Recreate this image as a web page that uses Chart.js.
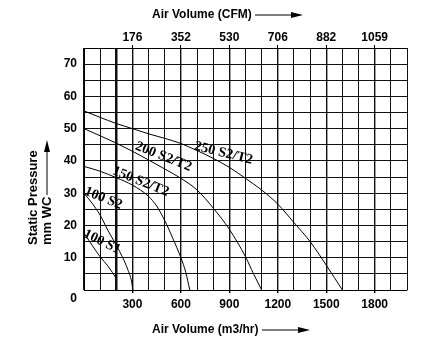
<!DOCTYPE html>
<html lang="en">
<head>
    <meta charset="UTF-8">
    <title>Fan Performance Curves</title>
    <script src="https://cdn.jsdelivr.net/npm/chart.js@4.4.0/dist/chart.umd.min.js"></script>
    <style>
        body { margin: 0; background: #fff; }
        .chart-container { position: relative; width: 439px; height: 350px; }
    </style>
</head>
<body>
    <div class="chart-container">
        <canvas id="fan-chart"></canvas>
    </div>

    <script>
        // Axis tick labels (bottom in m3/hr, top in CFM)
        const m3hTicks = [300, 600, 900, 1200, 1500, 1800];
        const cfmTicks = ['176', '352', '530', '706', '882', '1059'];
        const pressureTicks = [10, 20, 30, 40, 50, 60, 70];

        // Fan curves: air volume (m3/hr) vs static pressure (mm WC)
        const names = ['100 S1', '100 S2', '150 S2/T2', '200 S2/T2', '250 S2/T2'];

        const flow100S1 = [0, 50, 100, 150, 200];
        const pres100S1 = [17.6, 13.9, 10.3, 7.3, 3.6];

        const flow100S2 = [0, 50, 100, 150, 200, 240, 270, 295, 302];
        const pres100S2 = [30, 26.9, 23.2, 18.3, 13.9, 10, 6.5, 2.5, 0];

        const flow150 = [0, 100, 200, 300, 400, 450, 500, 550, 600, 630, 655];
        const pres150 = [38.3, 36.8, 34.8, 32.5, 29, 26, 21.5, 16, 10, 5.5, 0];

        const flow200 = [0, 100, 200, 300, 400, 500, 600, 700, 800, 900, 1000, 1050, 1100];
        const pres200 = [50, 47.8, 45.5, 43, 40.3, 37.5, 34.6, 31, 25.4, 18.8, 10.3, 5, 0];

        const flow250 = [0, 100, 200, 300, 400, 500, 600, 700, 800, 900, 1000, 1100, 1200, 1300, 1400, 1500, 1600];
        const pres250 = [55.5, 53.5, 51.6, 50, 48.4, 47, 45.4, 43.2, 40.8, 38, 34.6, 31, 26.6, 20.9, 15, 7.7, 0];

        const curves = [
            [flow100S1, pres100S1],
            [flow100S2, pres100S2],
            [flow150, pres150],
            [flow200, pres200],
            [flow250, pres250]
        ];

        // where each curve name sits (data coords) and its slant in degrees
        const labelSpots = [
            { x: 112, y: 14.9, angle: 26 },
            { x: 120, y: 28.4, angle: 22 },
            { x: 351, y: 33.6, angle: 22 },
            { x: 492, y: 41.3, angle: 22 },
            { x: 864, y: 42.4, angle: 14 }
        ];

        const tickFont = { family: 'Liberation Sans, Arial, sans-serif', size: 12, weight: 'bold' };

        function arrow(ctx, x1, y1, x2, y2) {
            const ang = Math.atan2(y2 - y1, x2 - x1);
            ctx.beginPath();
            ctx.moveTo(x1, y1);
            ctx.lineTo(x2 - 8 * Math.cos(ang), y2 - 8 * Math.sin(ang));
            ctx.lineWidth = 1;
            ctx.stroke();
            ctx.beginPath();
            ctx.moveTo(x2, y2);
            ctx.lineTo(x2 - 12 * Math.cos(ang) - 3 * Math.sin(ang), y2 - 12 * Math.sin(ang) + 3 * Math.cos(ang));
            ctx.lineTo(x2 - 12 * Math.cos(ang) + 3 * Math.sin(ang), y2 - 12 * Math.sin(ang) - 3 * Math.cos(ang));
            ctx.closePath();
            ctx.fill();
        }

        // titles, arrows, origin label and curve names
        const annotations = {
            id: 'annotations',
            afterDraw(chart) {
                const ctx = chart.ctx;
                const xs = chart.scales.x;
                const ys = chart.scales.y;
                ctx.save();
                ctx.fillStyle = '#000';
                ctx.strokeStyle = '#000';

                ctx.font = 'bold 12px "Liberation Sans", Arial, sans-serif';
                ctx.textBaseline = 'middle';
                ctx.textAlign = 'left';
                ctx.fillText('Air Volume (CFM)', 152, 15);
                arrow(ctx, 255, 15, 303, 15);
                ctx.fillText('Air Volume (m3/hr)', 152, 330);
                arrow(ctx, 262, 330, 310, 330);

                // origin label sits below the axis line
                ctx.textAlign = 'right';
                ctx.fillText('0', ys.left + ys.width - 7, ys.getPixelForValue(0) + 9);

                // vertical axis title
                ctx.save();
                ctx.translate(33, 245);
                ctx.rotate(-Math.PI / 2);
                ctx.textAlign = 'left';
                ctx.font = 'bold 13px "Liberation Sans", Arial, sans-serif';
                ctx.fillText('Static Pressure', 0, 0);
                ctx.fillText('mm WC', 0, 14);
                ctx.restore();
                arrow(ctx, 47, 195, 47, 140);

                ctx.font = 'bold 14px "Liberation Serif", "Times New Roman", serif';
                ctx.textAlign = 'center';
                names.forEach((name, i) => {
                    const s = labelSpots[i];
                    ctx.save();
                    ctx.translate(xs.getPixelForValue(s.x), ys.getPixelForValue(s.y));
                    ctx.rotate(s.angle * Math.PI / 180);
                    ctx.fillText(name, 0, 0);
                    ctx.restore();
                });
                ctx.restore();
            }
        };

        const fanChart = new Chart(document.getElementById('fan-chart'), {
            type: 'scatter',
            data: {
                datasets: curves.map((c, i) => ({
                    label: names[i],
                    data: c[0].map((f, j) => ({ x: f, y: c[1][j] })),
                    showLine: true,
                    borderColor: '#000',
                    borderWidth: 1,
                    pointRadius: 0,
                    cubicInterpolationMode: 'monotone'
                }))
            },
            options: {
                responsive: true,
                maintainAspectRatio: false,
                animation: false,
                layout: { padding: { left: 0, right: 32, top: 0, bottom: 0 } },
                plugins: {
                    legend: { display: false },
                    tooltip: { enabled: false }
                },
                scales: {
                    x: {
                        type: 'linear',
                        position: 'bottom',
                        min: 0,
                        max: 2000,
                        afterFit: s => { s.height = 60; },
                        border: { color: '#000', width: 1 },
                        grid: {
                            color: '#111',
                            lineWidth: c => c.tick && c.tick.value === 200 ? 2.5 : (c.tick && c.tick.value % 300 === 0 ? 1.4 : 1),
                            tickLength: 3,
                            tickColor: c => c.tick && m3hTicks.includes(c.tick.value) ? '#000' : 'rgba(0,0,0,0)'
                        },
                        ticks: {
                            stepSize: 100,
                            autoSkip: false,
                            maxRotation: 0,
                            padding: 4,
                            color: '#000',
                            font: tickFont,
                            callback: v => m3hTicks.includes(v) ? String(v) : ''
                        }
                    },
                    x2: {
                        type: 'linear',
                        position: 'top',
                        min: 0,
                        max: 2000,
                        afterFit: s => { s.height = 48; },
                        border: { color: '#000', width: 1 },
                        grid: {
                            drawOnChartArea: false,
                            tickLength: 3,
                            tickColor: c => c.tick && m3hTicks.includes(c.tick.value) ? '#000' : 'rgba(0,0,0,0)'
                        },
                        ticks: {
                            stepSize: 100,
                            autoSkip: false,
                            maxRotation: 0,
                            padding: 0,
                            color: '#000',
                            font: tickFont,
                            callback: v => {
                                const i = m3hTicks.indexOf(v);
                                return i >= 0 ? cfmTicks[i] : '';
                            }
                        }
                    },
                    y: {
                        type: 'linear',
                        min: 0,
                        max: 75,
                        afterFit: s => { s.width = 84; },
                        border: { color: '#000', width: 1 },
                        grid: {
                            color: '#111',
                            lineWidth: 1,
                            drawTicks: false
                        },
                        ticks: {
                            stepSize: 5,
                            autoSkip: false,
                            padding: 7,
                            color: '#000',
                            font: tickFont,
                            callback: v => pressureTicks.includes(v) ? String(v) : ''
                        }
                    }
                }
            },
            plugins: [annotations]
        });
    </script>
</body>
</html>
